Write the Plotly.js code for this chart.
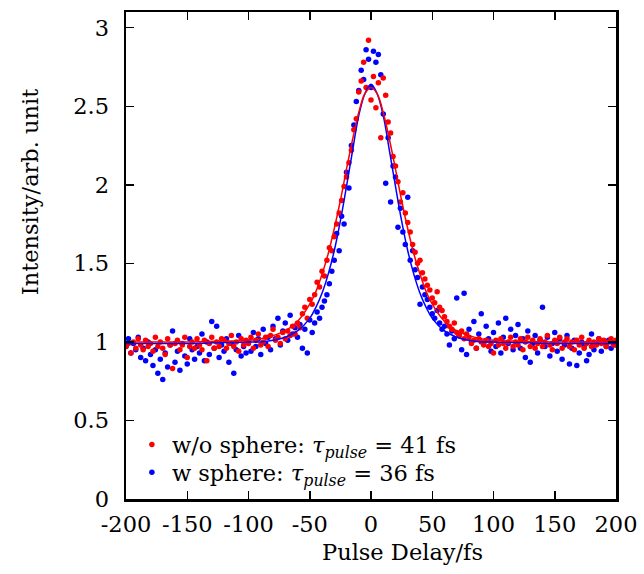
<!DOCTYPE html>
<html>
<head>
<meta charset="utf-8">
<script src="https://cdn.plot.ly/plotly-3.0.1.min.js"></script>
<style>html,body{margin:0;padding:0;background:#fff;}</style>
</head>
<body>
<div id="chart" style="width:644px;height:574px;"></div>
<script>
// Pulse delay (fs) of the measured points
const delay = [
-200,-198,-196,-194,-192,-190,-188,-186,-184,-182,
-180,-178,-176,-174,-172,-170,-168,-166,-164,-162,
-160,-158,-156,-154,-152,-150,-148,-146,-144,-142,
-140,-138,-136,-134,-132,-130,-128,-126,-124,-122,
-120,-118,-116,-114,-112,-110,-108,-106,-104,-102,
-100,-98,-96,-94,-92,-90,-88,-86,-84,-82,
-80,-78,-76,-74,-72,-70,-68,-66,-64,-62,
-60,-58,-56,-54,-52,-50,-48,-46,-44,-42,
-40,-38,-36,-34,-32,-30,-28,-26,-24,-22,
-20,-18,-16,-14,-12,-10,-8,-6,-4,-2,
0,2,4,6,8,10,12,14,16,18,
20,22,24,26,28,30,32,34,36,38,
40,42,44,46,48,50,52,54,56,58,
60,62,64,66,68,70,72,74,76,78,
80,82,84,86,88,90,92,94,96,98,
100,102,104,106,108,110,112,114,116,118,
120,122,124,126,128,130,132,134,136,138,
140,142,144,146,148,150,152,154,156,158,
160,162,164,166,168,170,172,174,176,178,
180,182,184,186,188,190,192,194,196,198,
200];

// Intensity without sphere (red)
const woSphere = [
0.97,0.99,0.93,1.00,0.96,1.02,0.98,0.95,1.01,0.97,
0.99,0.94,1.03,0.97,1.00,0.96,0.92,1.02,0.98,0.83,
0.99,1.01,0.95,0.98,1.03,0.90,0.97,1.00,0.96,1.02,
0.98,0.95,1.01,0.88,0.99,1.03,0.96,1.00,0.97,1.02,
1.01,0.96,0.99,1.04,0.97,1.00,0.94,1.02,0.98,1.01,
0.99,1.03,0.96,1.01,1.05,0.98,1.00,1.03,0.97,1.04,
1.08,1.01,1.03,0.99,1.06,1.02,1.07,1.04,1.10,1.05,
1.12,1.09,1.18,1.22,1.15,1.27,1.24,1.30,1.38,1.35,
1.45,1.42,1.52,1.60,1.58,1.67,1.75,1.82,1.90,1.99,
2.05,2.14,2.22,2.35,2.42,2.59,2.66,2.78,2.62,2.92,
2.54,2.69,2.49,2.65,2.30,2.68,2.57,2.40,2.33,2.18,
2.12,2.02,1.89,1.95,1.82,1.76,1.70,1.62,1.57,1.50,
1.52,1.44,1.40,1.36,1.33,1.28,1.25,1.32,1.22,1.20,
1.16,1.13,1.10,1.08,1.12,1.06,1.04,1.07,1.02,1.05,
1.03,0.99,1.01,0.96,1.02,1.00,0.98,1.01,0.97,0.99,
0.93,1.01,0.98,1.02,0.99,0.96,1.00,1.03,0.97,1.00,
0.98,1.02,0.95,1.00,1.03,0.97,1.01,0.96,0.99,1.02,
0.97,1.00,1.04,0.98,0.95,1.01,0.99,1.03,0.96,1.00,
1.02,0.97,1.00,0.95,1.01,0.98,1.03,0.96,0.99,1.01,
0.97,1.00,0.98,1.02,0.99,1.01,0.97,1.00,1.02,0.98,
1.01];

// Intensity with sphere (blue)
const wSphere = [
0.97,1.02,0.93,0.99,0.95,1.03,0.90,0.96,0.88,1.00,
0.92,0.85,0.95,0.80,0.89,0.76,0.93,0.84,0.98,1.07,
0.87,0.94,0.82,0.99,0.91,0.86,1.02,0.95,0.89,0.97,
0.93,1.05,0.88,1.00,0.92,1.13,0.96,1.10,0.90,0.98,
0.94,1.02,0.87,0.99,0.80,0.95,1.04,0.91,0.97,0.93,
1.00,0.94,1.06,0.97,1.02,0.92,1.08,0.99,1.03,0.95,
1.10,1.02,1.15,0.98,1.07,1.12,1.01,1.17,1.05,1.09,
1.03,1.11,0.96,1.08,0.93,1.14,1.06,1.12,1.19,1.15,
1.22,1.26,1.30,1.37,1.45,1.52,1.69,1.58,1.80,1.75,
2.08,1.98,2.25,2.38,2.53,2.60,2.73,2.67,2.86,2.80,
2.62,2.85,2.78,2.83,2.70,2.45,2.01,2.30,1.89,2.12,
2.05,1.73,1.85,1.70,1.62,1.92,1.52,1.58,1.46,1.41,
1.24,1.35,1.30,1.27,1.22,1.18,1.15,1.20,1.12,1.08,
1.10,1.05,0.98,1.07,1.02,1.28,1.04,0.95,1.31,0.92,
1.08,1.00,1.13,0.96,1.05,1.18,0.99,1.10,1.02,0.94,
1.06,0.97,1.12,0.93,1.03,1.15,0.99,1.08,0.95,1.04,
1.11,0.96,1.02,0.90,1.07,0.87,0.99,1.04,0.93,1.01,
1.22,0.97,1.03,0.91,0.99,1.06,0.94,1.02,0.89,0.98,
1.04,0.86,0.96,1.01,0.85,0.93,1.00,0.97,0.88,0.92,
1.05,0.95,0.99,1.02,0.94,1.00,0.97,1.01,0.96,0.99,
0.98];

// Fit curves
const fitDelay = [-200,-150,-100,-90,-80,-70,-60,-50,-45,-40,-35,-30,-25,-20,-15,-10,-5,0,5,10,15,20,25,30,35,40,45,50,60,70,80,90,100,150,200];
const woFit = [1.00,1.00,1.01,1.02,1.04,1.07,1.13,1.24,1.32,1.43,1.56,1.72,1.90,2.10,2.29,2.46,2.58,2.62,2.58,2.46,2.29,2.10,1.90,1.72,1.56,1.43,1.32,1.24,1.13,1.07,1.04,1.02,1.01,1.00,1.00];
const wFit = [0.99,0.99,1.00,1.00,1.01,1.03,1.07,1.15,1.22,1.31,1.43,1.58,1.77,1.99,2.22,2.44,2.58,2.64,2.58,2.44,2.22,1.99,1.77,1.58,1.43,1.31,1.22,1.15,1.07,1.03,1.01,1.00,1.00,0.99,0.99];

const xTicks = [-200,-150,-100,-50,0,50,100,150,200];
const xTickText = ['-200','-150','-100','-50','0','50','100','150','200'];
const yTicks = [0,0.5,1,1.5,2,2.5,3];
const yTickText = ['0','0.5','1','1.5','2','2.5','3'];

const labelWo = 'w/o sphere: <i>τ<sub>pulse</sub></i> = 41 fs';
const labelW = 'w sphere: <i>τ<sub>pulse</sub></i> = 36 fs';

const FONT = 'DejaVu Serif, serif';
const FS = 22.5;

const traces = [
  {x: delay, y: wSphere, type: 'scatter', mode: 'markers', name: labelW, legend: 'legend2',
   marker: {color: '#0000ff', size: 5.5}},
  {x: delay, y: woSphere, type: 'scatter', mode: 'markers', name: labelWo, legend: 'legend',
   marker: {color: '#ff0000', size: 5.5}},
  {x: fitDelay, y: wFit, type: 'scatter', mode: 'lines', showlegend: false,
   line: {color: '#0000ff', width: 1.5, shape: 'spline'}},
  {x: fitDelay, y: woFit, type: 'scatter', mode: 'lines', showlegend: false,
   line: {color: '#ff0000', width: 1.5, shape: 'spline'}}
];

const axisCommon = {
  showgrid: false, zeroline: false, showline: true, linecolor: '#000', linewidth: 2.5,
  mirror: 'allticks', ticks: 'inside', ticklen: 8, tickwidth: 1.5, tickcolor: '#000',
  tickfont: {family: FONT, size: FS, color: '#000'}
};

const legendCommon = {xanchor: 'left', yanchor: 'middle', bgcolor: 'rgba(0,0,0,0)',
  font: {family: FONT, size: FS, color: '#000'}, itemwidth: 30, borderwidth: 0};

const layout = {
  width: 644, height: 574,
  margin: {l: 126, r: 28, t: 12, b: 75},
  paper_bgcolor: '#fff', plot_bgcolor: '#fff',
  font: {family: FONT, size: FS, color: '#000'},
  xaxis: Object.assign({}, axisCommon, {range: [-200, 200], tickmode: 'array', tickvals: xTicks, ticktext: xTickText, ticklabelstandoff: 3}),
  yaxis: Object.assign({}, axisCommon, {range: [0, 3.1], tickmode: 'array', tickvals: yTicks, ticktext: yTickText, ticklabelstandoff: 10}),
  legend: Object.assign({}, legendCommon, {x: 0.012, y: 0.111}),
  legend2: Object.assign({}, legendCommon, {x: 0.012, y: 0.054}),
  showlegend: true,
  annotations: [
    {text: 'Pulse Delay/fs', xref: 'paper', yref: 'paper', x: 0.565, y: -0.108, showarrow: false,
     xanchor: 'center', yanchor: 'middle', font: {family: FONT, size: FS, color: '#000'}},
    {text: 'Intensity/arb. unit', xref: 'paper', yref: 'paper', x: -0.196, y: 0.63, showarrow: false,
     textangle: -90, xanchor: 'center', yanchor: 'middle', font: {family: FONT, size: FS, color: '#000'}}
  ]
};

Plotly.newPlot('chart', traces, layout, {displayModeBar: false, staticPlot: true});
</script>
</body>
</html>
